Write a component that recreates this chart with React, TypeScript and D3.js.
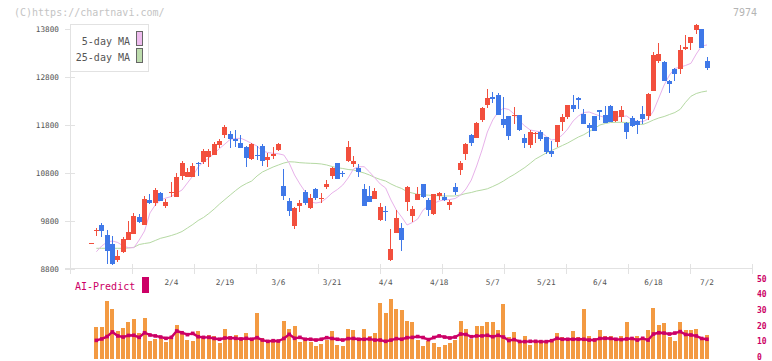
import React from "react";
import * as d3 from "d3";

// ---- price data (one entry per trading session, left to right) ----
const opens = [9335,9600,9717,9508,9321,8988,9160,9404,9535,9883,9717,10237,10181,10383,10119,10394,10294,10744,10723,10723,11008,11035,11127,11181,11383,11592,11613,11508,11419,11348,11092,11181,11363,11071,11160,11279,10529,10217,9702,10113,10404,10071,10467,10273,10508,10738,11008,10806,11050,10988,10904,10467,10321,10258,9821,10008,8988,9556,9654,10202,9904,10237,10571,10237,9946,10321,10300,10133,10508,10863,11196,11592,11523,11904,12217,12383,12425,11925,11988,11988,12008,11529,11383,11613,11660,11550,11258,11452,11869,11973,12217,12363,12029,11800,11988,12113,12008,12196,11883,11973,11848,11946,11883,12029,11994,12515,13140,13119,12717,12967,12967,13390,13515,13779,13800,13133];
const highs = [9335,9654,9758,9612,9487,9196,9460,9806,9960,9940,10321,10363,10494,10410,10265,10612,10806,11044,10898,11002,11029,11300,11294,11452,11502,11800,11681,11696,11592,11360,11419,11363,11404,11210,11335,11431,10883,10279,10090,10237,10446,10363,10488,10383,10654,10931,11008,10848,11473,11154,10988,10571,10529,10488,10175,10113,9633,10029,9758,10529,10113,10515,10580,10279,10363,10404,10383,10237,10592,11050,11431,11613,11869,12181,12550,12494,12460,12390,11988,12181,12008,11613,11696,11660,11696,11550,11467,11800,12029,12217,12425,12383,12133,11848,11988,12113,12196,12217,12092,12196,11860,11988,11904,12196,12460,13315,13515,13140,12730,12994,13467,13675,13640,13904,13800,13217];
const lows = [9335,9487,9473,8904,8890,8952,9127,9404,9535,9752,9717,10154,10119,10223,10065,10306,10294,10654,10723,10723,10738,10981,10931,11181,11315,11523,11327,11348,11315,10931,11071,11071,10946,10931,11085,11258,10237,9904,9633,9988,10127,10050,10237,10175,10467,10675,10675,10723,11029,10925,10723,10113,10196,10258,9800,9800,8967,9556,9175,10008,9779,10237,10279,9904,9925,10237,10217,10029,10342,10758,11071,11363,11523,11856,12160,12252,12008,11731,11488,11815,11675,11321,11321,11425,11467,11202,11127,11335,11681,11919,12077,12133,11827,11556,11681,11904,11835,11869,11863,11863,11508,11765,11613,11821,11904,12508,13085,12723,12467,12723,12863,13363,13363,13696,13410,12946];
const closes = [9335,9620,9598,9181,8904,9077,9431,9565,9904,9779,10258,10181,10446,10223,10202,10410,10723,11015,10827,10952,10987,11265,11258,11404,11473,11765,11502,11460,11315,11106,11404,11169,11056,11140,11196,11404,10321,10015,10071,10175,10175,10279,10279,10285,10571,10910,10675,10779,11342,11050,10821,10113,10196,10425,10092,9994,9217,9863,9404,10515,10050,10363,10300,10029,10363,10390,10237,10196,10404,11008,11404,11419,11848,12160,12369,12342,12008,11800,11571,12002,11696,11431,11660,11640,11508,11244,11202,11800,11973,12217,12133,12327,11827,11744,11681,12077,11848,11869,12092,12113,11660,11785,11800,11925,12446,13258,13279,12723,12654,12863,13363,13425,13633,13883,13410,12994];

// ---- moving averages as drawn ----
const ma5 = [null,9160,9279,9363,9383,9352,9279,9244,9244,9404,9592,9967,10133,10238,10279,10310,10383,10446,10592,10738,10925,11029,11113,11206,11310,11404,11502,11519,11523,11473,11415,11363,11258,11227,11210,11200,11175,11008,10758,10571,10404,10196,10175,10196,10279,10383,10456,10550,10696,10883,10931,10931,10821,10696,10571,10488,10238,10029,9883,9717,9769,9842,10029,10113,10169,10217,10238,10248,10269,10342,10467,10654,10946,11279,11654,11904,12071,12148,12123,12029,11883,11779,11696,11675,11654,11560,11488,11508,11592,11717,11883,11988,12060,12071,12029,11988,11956,11946,11967,11977,11988,11904,11873,11869,11925,12092,12363,12633,12842,12977,13008,13040,13085,13279,13446,13467];
const ma25 = [null,9231,9231,9231,9231,9231,9231,9238,9252,9310,9331,9348,9394,9440,9467,9498,9535,9581,9654,9727,9810,9873,9956,10050,10154,10248,10342,10435,10519,10581,10633,10738,10821,10873,10925,10967,11008,11035,11029,11015,11008,11002,10998,10988,10967,10935,10910,10894,10873,10863,10831,10800,10758,10706,10665,10633,10571,10519,10477,10410,10383,10356,10346,10338,10331,10325,10321,10321,10321,10342,10373,10394,10425,10446,10471,10519,10571,10633,10706,10769,10842,10915,11002,11092,11154,11217,11269,11321,11373,11425,11488,11550,11598,11665,11727,11800,11831,11852,11856,11856,11852,11842,11821,11810,11852,11904,11946,11977,12019,12060,12127,12273,12398,12456,12488,12508];

// ---- lower panel ----
const volume = [null,19.8,19.8,36.2,31.1,17.3,19.2,23,24.8,16,25.5,11,12.3,12.3,10.4,12.3,21.1,16,11.6,11,17.3,12.9,14.8,14.2,9.7,18.6,14.2,14.8,12.3,16,12.3,28.6,12.9,10.4,11.6,11,23.6,18.6,20.4,10.4,11.6,10.4,7.9,9.1,11.6,17.3,8.5,7.9,18.6,17.9,12.3,18.6,14.2,16,34.9,28.6,37.4,31.1,30.5,23.6,23,11.6,7.9,11,9.7,7.2,8.5,9.7,11.6,23.6,18.6,12.3,20.4,20.4,23,23,17.9,34.3,13.5,16.7,10.4,14.2,8.5,11,11,11,11,16,13.5,12.3,17.3,13.5,31.1,14.2,12.9,17.9,14.2,14.2,11.6,14.2,23,11.6,14.2,11.6,17.9,31.8,21.1,22.3,13.5,11,23,17.9,17.9,18.6,11.6,14.8];
const aiPredict = [null,11.4,12.3,13.8,16.7,14.2,13.5,14.5,14.6,13.3,16.2,14.8,14.2,13.5,12.7,13.3,17.3,16.2,15,15.8,13.7,13.3,13.3,12.6,12.1,12.9,12.9,12.7,12.3,12.7,12.1,13.1,11.6,10.8,11.2,11,12.6,15.2,12.7,13.3,12.1,12.1,11.6,12.1,13.1,12.6,12.1,11.6,12.5,12.6,12.1,12.1,12.3,11.6,11.6,10.8,11.6,12.5,12.1,13.1,13.3,13.8,13.2,11.9,13.2,14.2,13.5,12.9,13.5,15.4,15.1,13.7,14.2,14.2,14.6,13.7,14.6,13.5,11.3,11.9,10.7,10.6,10.8,10.8,10.6,10.6,11.2,12.7,12.1,12.1,12.1,12.1,12.1,11.6,11.6,12.6,12.7,12.6,12.1,11.9,12.3,12.6,11.6,12.7,11.6,15.4,16.2,16,15.4,16,16.9,15.1,14.8,14.2,12.6,12.1];

// ---- axes ----
const dateLabels = ["2/4","2/19","3/6","3/21","4/4","4/18","5/7","5/21","6/4","6/18","7/2"];
const dateLabelIndex = [15,25,35,45,55,65,75,85,95,105,115];
const priceTicks = [13800,12800,11800,10800,9800,8800];
const volTicks = [50,40,30,20,10,0];
const gridTickCount = 11;

const UP = "#f24f3d";
const DOWN = "#3f78e8";
const MONO = "'DejaVu Sans Mono', 'Liberation Mono', monospace";
const AXIS = "#e2e2e2";
const CRIMSON = "#cc0066";

export default function App() {
  const W = 772, H = 361;
  const n = closes.length;
  const x = d3.scaleLinear().domain([0, n - 1]).range([91, 707]);
  const y = d3.scaleLinear().domain([8800, 13800]).range([269, 29]);
  const yv = d3.scaleLinear().domain([0, 50]).range([358.5, 279]);
  const yvLabel = d3.scaleLinear().domain([0, 50]).range([357.2, 279]);
  const xg = d3.scaleLinear().domain([0, gridTickCount]).range([70, 752]);

  const maLine = d3.line<[number, number | null]>()
    .defined(d => d[1] != null)
    .x(d => x(d[0]))
    .y(d => y(d[1] as number));
  const aiLine = d3.line<[number, number | null]>()
    .defined(d => d[1] != null)
    .x(d => x(d[0]))
    .y(d => yv(d[1] as number));

  const ma5Pts = ma5.map((v, i) => [i, v] as [number, number | null]);
  const ma25Pts = ma25.map((v, i) => [i, v] as [number, number | null]);
  const aiPts = aiPredict.map((v, i) => [i, v] as [number, number | null]);

  return (
    <svg width={W} height={H} viewBox={`0 0 ${W} ${H}`}
      style={{ position: "fixed", left: 0, top: 0, background: "#fff" }}>
      <rect x={0} y={0} width={W} height={H} fill="#fff" />
      <text x={14} y={16} fontFamily={MONO} fontSize={10} fill="#c4c4c4">(C)https://chartnavi.com/</text>
      <text x={757} y={16} fontFamily={MONO} fontSize={10} fill="#b4b4b4" textAnchor="end">7974</text>

      {/* axes */}
      <g shapeRendering="crispEdges" stroke={AXIS} strokeWidth={1}>
        <line x1={70.5} x2={70.5} y1={24} y2={273} />
        <line x1={65} x2={752} y1={268.5} y2={268.5} />
        {priceTicks.map(t => (
          <line key={t} x1={65} x2={75} y1={Math.round(y(t)) + 0.5} y2={Math.round(y(t)) + 0.5} />
        ))}
        {d3.range(gridTickCount + 1).map(k => (
          <line key={k} x1={Math.round(xg(k)) + 0.5} x2={Math.round(xg(k)) + 0.5} y1={264} y2={274} />
        ))}
      </g>
      {priceTicks.map(t => (
        <text key={t} x={59} y={y(t)} dy="0.35em" textAnchor="end" fontFamily={MONO} fontSize={7.7} fill="#555">{t}</text>
      ))}
      {dateLabels.map((lab, k) => (
        <text key={lab} x={x(dateLabelIndex[k])} y={285} textAnchor="middle" fontFamily={MONO} fontSize={7.7} fill="#555">{lab}</text>
      ))}

      {/* moving averages */}
      <path d={maLine(ma25Pts) || ""} fill="none" stroke="#b5d9a3" strokeWidth={1} />
      <path d={maLine(ma5Pts) || ""} fill="none" stroke="#e8b2ea" strokeWidth={1} />

      {/* candles */}
      <g shapeRendering="crispEdges">
        {closes.map((c, i) => {
          const o = opens[i];
          const up = c >= o;
          const col = up ? UP : DOWN;
          const left = Math.round(x(i) - 2.5);
          const top = Math.round(y(Math.max(o, c)));
          const bot = Math.round(y(Math.min(o, c)));
          const hTop = Math.round(y(highs[i]));
          const lBot = Math.round(y(lows[i]));
          return (
            <g key={i}>
              {lBot > hTop && <rect x={left + 2} y={hTop} width={1} height={lBot - hTop} fill={col} />}
              <rect x={left} y={top} width={5} height={Math.max(1, bot - top)} fill={col} />
            </g>
          );
        })}
      </g>

      {/* legend */}
      <rect x={70.5} y={24.5} width={78} height={47} fill="#fff" stroke={AXIS} shapeRendering="crispEdges" />
      <text x={130} y={41} dy="0.35em" textAnchor="end" fontFamily={MONO} fontSize={10} fill="#555">5-day MA</text>
      <text x={130} y={57} dy="0.35em" textAnchor="end" fontFamily={MONO} fontSize={10} fill="#555">25-day MA</text>
      <rect x={136.5} y={31.5} width={6} height={14} fill="#eebcee" stroke="#666" shapeRendering="crispEdges" />
      <rect x={136.5} y={48.5} width={6} height={14} fill="#bddcad" stroke="#666" shapeRendering="crispEdges" />

      {/* lower panel */}
      <text x={75} y={289.5} fontFamily={MONO} fontSize={10} fill={CRIMSON}>AI-Predict</text>
      <rect x={142} y={277} width={7} height={16} fill={CRIMSON} />
      <g shapeRendering="crispEdges">
        {volume.map((v, i) => v == null ? null : (
          <rect key={i} x={Math.round(x(i) - 2)} y={Math.round(yv(v))} width={4}
            height={Math.round(yv(0)) - Math.round(yv(v))} fill="#f39a42" />
        ))}
      </g>
      <path d={aiLine(aiPts) || ""} fill="none" stroke={CRIMSON} strokeWidth={2.4} strokeLinejoin="round" />
      {aiPredict.map((v, i) => v == null ? null : (
        <rect key={i} x={x(i) - 1.8} y={yv(v) - 1.8} width={3.6} height={3.6} fill={CRIMSON} />
      ))}
      {volTicks.map(t => (
        <text key={t} x={757} y={yvLabel(t)} dy="0.33em" fontFamily={MONO} fontSize={8} fontWeight="bold" fill={CRIMSON}>{t}</text>
      ))}
    </svg>
  );
}
